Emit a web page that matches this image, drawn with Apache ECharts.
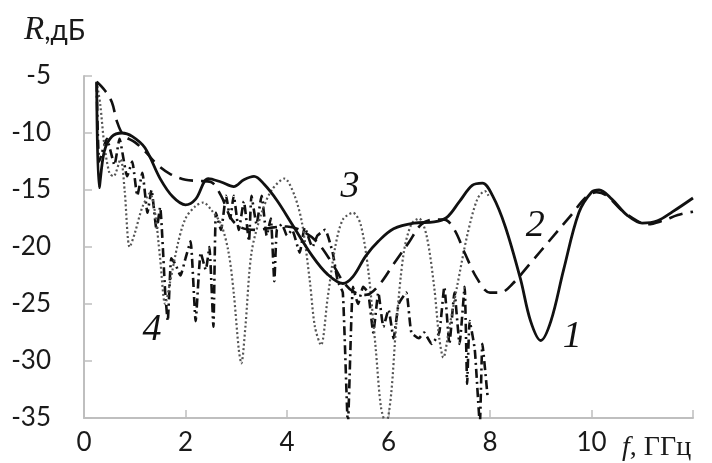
<!DOCTYPE html>
<html>
<head>
<meta charset="utf-8">
<script src="https://cdn.jsdelivr.net/npm/echarts@6/dist/echarts.min.js"></script>
<style>html,body{margin:0;padding:0;background:#fff;}#c{width:712px;height:463px;}</style>
</head>
<body>
<div id="c"></div>
<script>
// X ticks (GHz) and Y ticks (dB)
var xTicks = [0, 2, 4, 6, 8, 10, 12];
var yTicks = [-35, -30, -25, -20, -15, -10, -5];

// Curve 1 (solid)
var curve1 = [[0.25,-5.5],[0.3,-14.8],[0.4,-11.6],[0.55,-10.3],[0.75,-10],[0.95,-10.3],[1.2,-11.3],[1.5,-14],[1.75,-15.6],[2.0,-16.3],[2.2,-15.8],[2.45,-14],[2.7,-14.3],[2.95,-14.7],[3.15,-14.1],[3.35,-13.8],[3.55,-14.5],[3.8,-15.9],[4.1,-18],[4.5,-20.8],[4.8,-22.4],[5.1,-23.2],[5.3,-22.6],[5.55,-20.8],[5.8,-19.5],[6.1,-18.4],[6.5,-17.9],[6.9,-17.8],[7.15,-17.4],[7.4,-16],[7.65,-14.6],[7.85,-14.4],[8.05,-15.5],[8.3,-18.2],[8.6,-22.8],[8.8,-26.5],[9.0,-28.2],[9.2,-26.5],[9.45,-22],[9.75,-17],[10.0,-15.2],[10.15,-15],[10.4,-15.8],[10.7,-17.2],[11.0,-17.9],[11.3,-17.7],[11.6,-16.9],[12.0,-15.7]];

// Curve 2 (dashed)
var curve2 = [[0.25,-5.5],[0.4,-6.2],[0.55,-7.3],[0.65,-9],[0.78,-10.2],[1.0,-10.8],[1.2,-11.6],[1.45,-12.8],[1.7,-13.6],[2.0,-14.1],[2.25,-14.2],[2.5,-14.3],[2.7,-15.5],[2.9,-17.5],[3.1,-18.3],[3.4,-18.5],[3.7,-18.3],[4.0,-18.2],[4.3,-18.6],[4.6,-19.6],[4.9,-21.5],[5.1,-23],[5.3,-23.9],[5.55,-24.2],[5.8,-23.4],[6.1,-21.5],[6.4,-19.6],[6.65,-18],[6.9,-17.6],[7.1,-17.6],[7.3,-18.5],[7.5,-20.5],[7.75,-22.8],[8.0,-24],[8.2,-24],[8.45,-23.2],[8.8,-21.4],[9.2,-19.3],[9.6,-17.2],[9.9,-15.6],[10.1,-15.2],[10.3,-15.5],[10.6,-16.8],[10.9,-17.7],[11.1,-18],[11.4,-17.7],[11.7,-17.2],[12.0,-16.9]];

// Curve 3 (dotted)
var curve3 = [[0.25,-5.5],[0.32,-7.5],[0.4,-11],[0.5,-13.5],[0.58,-13.8],[0.72,-12.3],[0.8,-15],[0.9,-20],[1.0,-18.8],[1.15,-16.5],[1.3,-15.3],[1.4,-17],[1.5,-21],[1.6,-25],[1.7,-23],[1.85,-19.7],[2.0,-17.5],[2.2,-16.4],[2.35,-16.1],[2.5,-16.7],[2.7,-18],[2.85,-20.5],[2.95,-24],[3.05,-29],[3.1,-30.2],[3.18,-27],[3.3,-20.5],[3.5,-17],[3.7,-15],[3.95,-14],[4.15,-15.5],[4.3,-18],[4.45,-23],[4.55,-27],[4.67,-28.6],[4.8,-24.5],[4.95,-20],[5.1,-17.6],[5.3,-17],[5.45,-18],[5.6,-22],[5.75,-29],[5.85,-34],[5.95,-35.5],[6.05,-33],[6.15,-27],[6.3,-20.5],[6.45,-18],[6.6,-17.5],[6.75,-19],[6.9,-23.5],[7.0,-28],[7.08,-29.7],[7.2,-27],[7.35,-23.5],[7.55,-19],[7.75,-15.8],[7.9,-15.1],[7.97,-15.5]];

// Curve 4 (dash-dot)
var curve4 = [[0.25,-5.6],[0.3,-12.5],[0.45,-10.5],[0.6,-12.8],[0.7,-10.5],[0.85,-13.8],[0.95,-12.5],[1.05,-15.5],[1.15,-13.5],[1.25,-17],[1.33,-15],[1.43,-18.5],[1.5,-16.5],[1.6,-24],[1.65,-26.5],[1.72,-21],[1.8,-21.5],[1.9,-22.5],[2.0,-21],[2.1,-19.5],[2.2,-26.5],[2.3,-20.5],[2.4,-22],[2.47,-20],[2.55,-27],[2.6,-17],[2.7,-18.5],[2.8,-15.5],[2.88,-17.5],[2.95,-15.5],[3.05,-18.5],[3.15,-16],[3.25,-19.5],[3.3,-15.5],[3.4,-18],[3.5,-15.5],[3.6,-19],[3.68,-17.5],[3.75,-23],[3.8,-18.5],[3.9,-18],[4.0,-19],[4.1,-18.5],[4.25,-20.5],[4.35,-18.3],[4.5,-20],[4.6,-19],[4.75,-18.5],[4.9,-20.5],[5.0,-23],[5.1,-24],[5.2,-35.5],[5.3,-23.5],[5.4,-25],[5.5,-23.5],[5.6,-24],[5.7,-27.5],[5.8,-24],[5.9,-27],[6.0,-25.5],[6.1,-28],[6.2,-25],[6.35,-24],[6.45,-27.5],[6.6,-28],[6.7,-27.5],[6.85,-28.5],[7.0,-27.5],[7.1,-23.5],[7.2,-28.5],[7.3,-24],[7.4,-28.5],[7.5,-23.5],[7.55,-32],[7.6,-26.5],[7.7,-29],[7.8,-35.5],[7.85,-28.5],[7.95,-33]];

// Curve number labels (positions in data units)
var curveLabels = [['1', 9.62, -27.9], ['2', 8.89, -18.2], ['3', 5.24, -14.7], ['4', 1.34, -27.3]];

var chart = echarts.init(document.getElementById('c'), null, {renderer: 'canvas'});
var axisCol = '#bfbfbf';
var labFont = 'Lato, "Noto Sans", sans-serif';

chart.setOption({
  animation: false,
  backgroundColor: '#fff',
  grid: {left: 84, right: 19, top: 76, bottom: 45, containLabel: false},
  xAxis: {
    type: 'value', min: xTicks[0], max: xTicks[xTicks.length-1], interval: 2,
    axisLine: {show: true, lineStyle: {color: axisCol, width: 2}},
    axisTick: {show: true, inside: true, length: 8, lineStyle: {color: axisCol, width: 1.5}},
    splitLine: {show: false},
    axisLabel: {margin: 12, fontSize: 26, color: '#1a1a1a', fontFamily: labFont,
      formatter: function (v) { return v === 12 ? '' : String(v); }}
  },
  yAxis: {
    type: 'value', min: yTicks[0], max: yTicks[yTicks.length-1], interval: 5,
    axisLine: {show: true, lineStyle: {color: axisCol, width: 2}},
    axisTick: {show: true, inside: true, length: 8, lineStyle: {color: axisCol, width: 1.5}},
    splitLine: {show: false},
    axisLabel: {margin: 33, fontSize: 26, color: '#1a1a1a', fontFamily: labFont}
  },
  graphic: [
    {type: 'text', left: 24, top: 14, style: {
      text: '{r|R}{s|,дБ}',
      rich: {
        r: {fontFamily: '"Liberation Serif", serif', fontStyle: 'italic', fontSize: 33, fill: '#1a1a1a'},
        s: {fontFamily: labFont, fontSize: 28, fill: '#1a1a1a'}
      }}},
    {type: 'text', left: 622, top: 434, style: {
      text: '{f|f}{s|, ГГц}',
      rich: {
        f: {fontFamily: '"Liberation Serif", serif', fontStyle: 'italic', fontSize: 28, fill: '#1a1a1a'},
        s: {fontFamily: '"Liberation Serif", serif', fontSize: 28, fill: '#1a1a1a'}
      }}}
  ],
  series: [
    {type: 'line', data: curve4, showSymbol: false, symbol: 'none', smooth: 0.15, z: 2,
      lineStyle: {color: '#111', width: 2.6, type: [9, 4, 2, 4]}},
    {type: 'line', data: curve3, showSymbol: false, symbol: 'none', smooth: 0.3, z: 3,
      lineStyle: {color: '#555', width: 2.2, type: [2, 2.5]}},
    {type: 'line', data: curve2, showSymbol: false, symbol: 'none', smooth: 0.35, z: 4,
      lineStyle: {color: '#111', width: 2.6, type: [14, 8]}},
    {type: 'line', data: curve1, showSymbol: false, symbol: 'none', smooth: 0.35, z: 5,
      lineStyle: {color: '#111', width: 2.8}},
    {type: 'scatter', symbolSize: 1, z: 6, silent: true,
      itemStyle: {opacity: 0, color: '#000'},
      data: curveLabels.map(function (d) { return {name: d[0], value: [d[1], d[2]]}; }),
      label: {show: true, position: 'inside', formatter: '{b}', color: '#111', opacity: 1,
        fontFamily: '"Liberation Serif", serif', fontStyle: 'italic', fontSize: 38}}
  ]
});
</script>
</body>
</html>
